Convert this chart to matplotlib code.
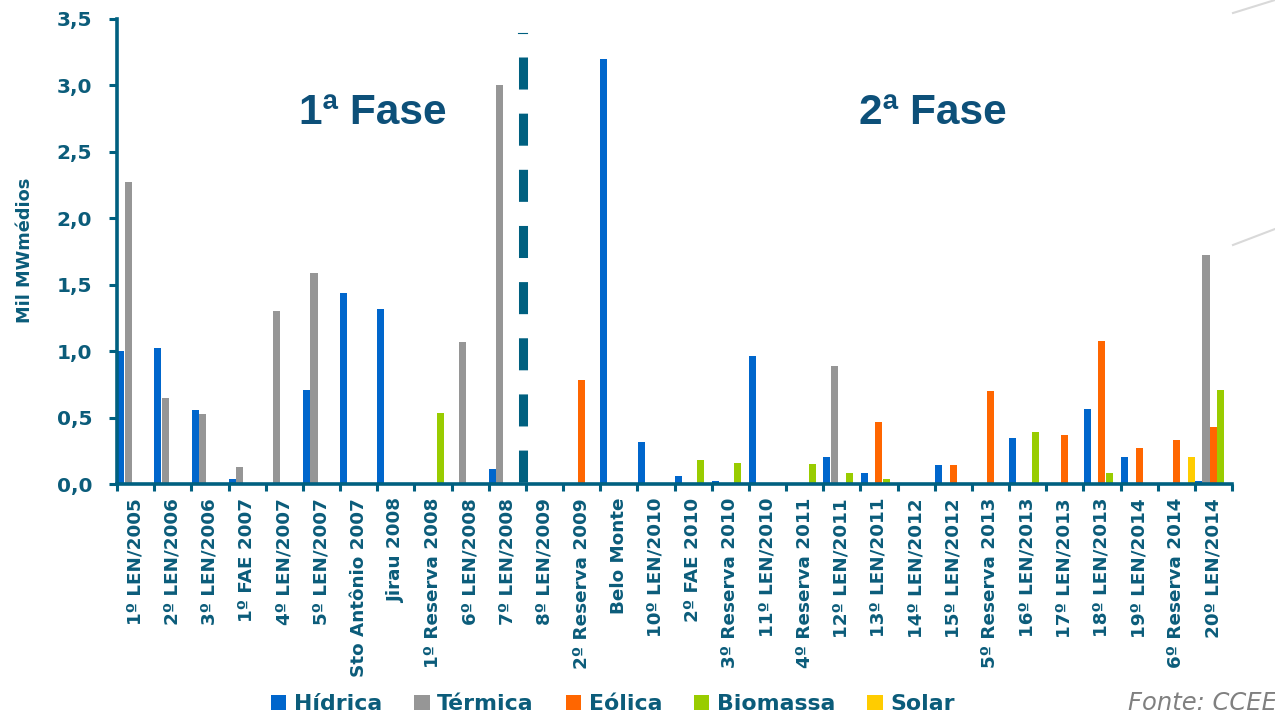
import matplotlib
matplotlib.use("Agg")
import matplotlib.pyplot as plt
from matplotlib.patches import Patch
from matplotlib.lines import Line2D
import numpy as np

# Leilões (eixo x)
leiloes = ['1º LEN/2005', '2º LEN/2006', '3º LEN/2006', '1º FAE 2007', '4º LEN/2007',
           '5º LEN/2007', 'Sto Antônio 2007', 'Jirau 2008', '1º Reserva 2008', '6º LEN/2008',
           '7º LEN/2008', '8º LEN/2009', '2º Reserva 2009', 'Belo Monte', '10º LEN/2010',
           '2º FAE 2010', '3º Reserva 2010', '11º LEN/2010', '4º Reserva 2011', '12º LEN/2011',
           '13º LEN/2011', '14º LEN/2012', '15º LEN/2012', '5º Reserva 2013', '16º LEN/2013',
           '17º LEN/2013', '18º LEN/2013', '19º LEN/2014', '6º Reserva 2014', '20º LEN/2014']

# Energia contratada por fonte (mil MWmédios)
hidrica = [1.00, 1.02, 0.56, 0.04, 0, 0.71, 1.44, 1.32, 0, 0,
           0.11, 0, 0, 3.20, 0.32, 0.06, 0.02, 0.96, 0, 0.20,
           0.085, 0, 0.145, 0, 0.35, 0, 0.565, 0.20, 0, 0.02]
termica = [2.27, 0.65, 0.53, 0.13, 1.30, 1.59, 0, 0, 0, 1.07,
           3.00, 0, 0, 0, 0, 0, 0, 0, 0, 0.89,
           0, 0, 0, 0, 0, 0, 0, 0, 0, 1.72]
eolica = [0, 0, 0, 0, 0, 0, 0, 0, 0, 0,
          0, 0, 0.78, 0, 0, 0, 0, 0, 0, 0,
          0.47, 0, 0.145, 0.70, 0, 0.37, 1.08, 0.27, 0.33, 0.43]
biomassa = [0, 0, 0, 0, 0, 0, 0, 0, 0.535, 0,
            0, 0.01, 0, 0, 0, 0.18, 0.16, 0, 0.15, 0.085,
            0.04, 0, 0, 0, 0.39, 0, 0.085, 0, 0, 0.71]
solar = [0, 0, 0, 0, 0, 0, 0, 0, 0, 0,
         0, 0, 0, 0, 0, 0, 0, 0, 0, 0,
         0, 0, 0, 0, 0, 0, 0, 0, 0.20, 0]

fontes = ['Hídrica', 'Térmica', 'Eólica', 'Biomassa', 'Solar']
cores = ['#0066cc', '#969696', '#ff6600', '#99cc00', '#ffcc00']
series = [hidrica, termica, eolica, biomassa, solar]

# separação entre 1ª e 2ª fase
limite_fase = 10.41

azul_eixo = '#006080'
azul_texto = '#0b5c7a'
azul_fase = '#0d5079'

plt.rcParams['font.family'] = 'DejaVu Sans'

fig = plt.figure(figsize=(12.75, 7.14), dpi=100)
ax = fig.add_axes([0.0918, 0.3221, 0.8745, 0.6513])

x = np.arange(len(leiloes))
largura = 0.2
for i, (nome, cor, valores) in enumerate(zip(fontes, cores, series)):
    v = np.array(valores, dtype=float)
    m = v > 0
    ax.bar(x[m] + (i - 2) * largura, v[m], width=largura * 0.95, color=cor,
           edgecolor='none', zorder=2)

ax.set_xlim(-0.5, len(leiloes) - 0.5)
ax.set_ylim(0, 3.5)

# eixos
for lado in ['top', 'right']:
    ax.spines[lado].set_visible(False)
for lado in ['left', 'bottom']:
    ax.spines[lado].set_color(azul_eixo)
    ax.spines[lado].set_linewidth(2.6)

ax.set_yticks(np.arange(0, 3.51, 0.5))
ax.set_yticklabels([f'{v:.1f}'.replace('.', ',') for v in np.arange(0, 3.51, 0.5)],
                   fontsize=14.5, fontweight='bold', color=azul_texto)
ax.tick_params(axis='y', direction='out', length=6, width=2.2, color=azul_eixo, pad=12)

ax.set_xticks(x)
ax.set_xticklabels(leiloes, rotation=90, fontsize=13.2, fontweight='bold',
                   color=azul_texto, va='top', ha='center')
ax.tick_params(axis='x', which='major', length=0, pad=10)
ax.set_xticks(np.arange(-0.5, len(leiloes)), minor=True)
ax.tick_params(axis='x', which='minor', direction='out', length=5, width=2.2, color=azul_eixo)

fig.text(25 / 1275, 1 - 250 / 714, 'Mil MWmédios', rotation=90, ha='center', va='center',
         fontsize=12.8, fontweight='bold', color=azul_texto)

# linha tracejada entre as fases
ax.plot([limite_fase, limite_fase], [3.213, 0], color=azul_eixo, linewidth=6.5,
        dashes=(3.55, 2.67), solid_capstyle='butt', dash_capstyle='butt', zorder=3)
ax.plot([limite_fase - 0.12, limite_fase + 0.12], [3.396, 3.396], color=azul_eixo,
        linewidth=0.8, zorder=3)

ax.text(6.39, 2.71, '1ª Fase', ha='center', va='baseline', fontsize=30.5,
        fontweight='bold', family='Liberation Sans', color=azul_fase)
ax.text(21.45, 2.71, '2ª Fase', ha='center', va='baseline', fontsize=30.5,
        fontweight='bold', family='Liberation Sans', color=azul_fase)

# legenda
handles = [Patch(facecolor=c, edgecolor='none') for c in cores]
leg = fig.legend(handles, fontes, loc='center', bbox_to_anchor=(613 / 1275, 1 - 704 / 714),
                 ncol=5, frameon=False, handlelength=0.7, handleheight=0.7,
                 handletextpad=0.35, columnspacing=1.45,
                 prop={'size': 15.8, 'weight': 'bold'})
for t in leg.get_texts():
    t.set_color(azul_texto)

fig.text(1128 / 1275, 1 - 703 / 714, 'Fonte: CCEE', ha='left', va='center',
         fontsize=17.5, style='italic', color='#808080')

# detalhes decorativos no canto superior direito
fig.add_artist(Line2D([1233 / 1275, 1], [1 - 13 / 714, 1], color='#d9d9d9', linewidth=1.5))
fig.add_artist(Line2D([1233 / 1275, 1], [1 - 245 / 714, 1 - 229 / 714], color='#d9d9d9',
                      linewidth=1.5))

fig.savefig('out.png', dpi=100)
